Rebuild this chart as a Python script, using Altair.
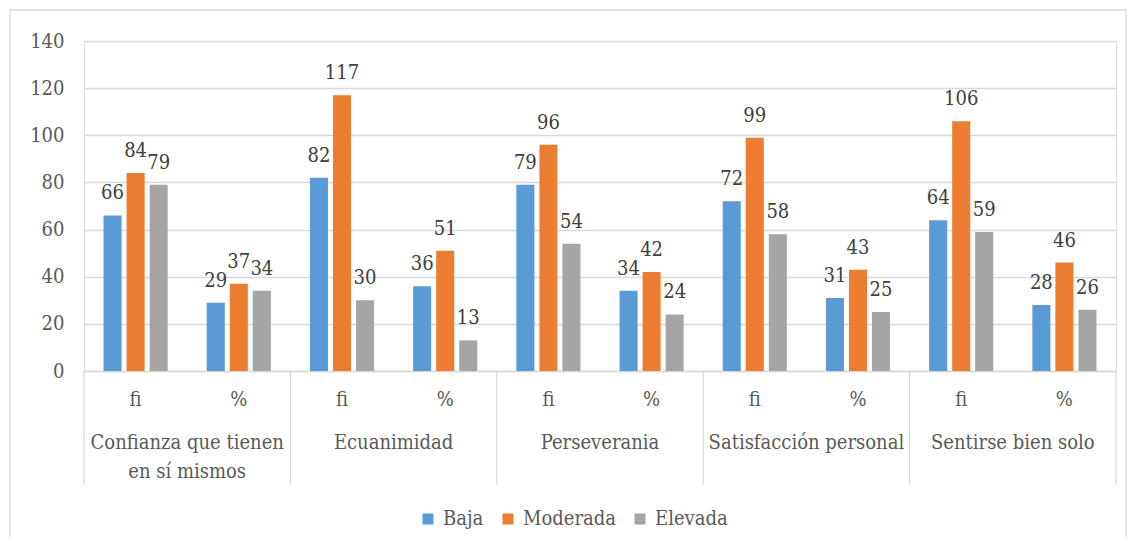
import altair as alt
import pandas as pd

categories = ["Confianza que tienen\nen sí mismos", "Ecuanimidad", "Perseverania",
              "Satisfacción personal", "Sentirse bien solo"]
subs = ["fi", "%"]
series = ["Baja", "Moderada", "Elevada"]
colors = ["#5B9BD5", "#ED7D31", "#A5A5A5"]

baja_fi = [66, 82, 79, 72, 64]
baja_pct = [29, 36, 34, 31, 28]
moderada_fi = [84, 117, 96, 99, 106]
moderada_pct = [37, 51, 42, 43, 46]
elevada_fi = [79, 30, 54, 58, 59]
elevada_pct = [34, 13, 24, 25, 26]

vals = {
    ("Baja", "fi"): baja_fi, ("Baja", "%"): baja_pct,
    ("Moderada", "fi"): moderada_fi, ("Moderada", "%"): moderada_pct,
    ("Elevada", "fi"): elevada_fi, ("Elevada", "%"): elevada_pct,
}

keys = []
rows = []
for i, c in enumerate(categories):
    for s in subs:
        k = f"{i}|{s}"
        keys.append(k)
        for j, ser in enumerate(series):
            rows.append({"cat": c, "sub": s, "key": k, "series": ser, "order": j,
                         "value": vals[(ser, s)][i]})
df = pd.DataFrame(rows)
cat_df = pd.DataFrame({"cat": categories, "key": [f"{i}|fi" for i in range(len(categories))]})
last_df = pd.DataFrame({"key": [keys[-1]]})
frame_df = pd.DataFrame({"a": [0]})

W, H = 1032, 330
FONT = "DejaVu Serif Condensed"

xenc = alt.X("key:N", sort=keys, scale=alt.Scale(paddingInner=0, paddingOuter=0),
             axis=alt.Axis(title=None, labelExpr="split(datum.label, '|')[1]", labelAngle=0,
                           ticks=False, domainColor="#D9D9D9", domainWidth=1.3,
                           labelFontSize=20, labelColor="#595959",
                           labelPadding=18, grid=False))

bars = alt.Chart(df).mark_bar().encode(
    x=xenc,
    xOffset=alt.XOffset("series:N", sort=series,
                        scale=alt.Scale(paddingInner=0.217, paddingOuter=0.848)),
    y=alt.Y("value:Q", scale=alt.Scale(domain=[0, 140]),
            axis=alt.Axis(title=None, values=list(range(0, 141, 20)), domain=False, ticks=False,
                          gridColor="#D9D9D9", gridWidth=1.3, labelFontSize=20,
                          labelColor="#595959", labelPadding=20)),
    color=alt.Color("series:N", sort=series, scale=alt.Scale(domain=series, range=colors),
                    legend=alt.Legend(title=None, orient="none", legendX=334, legendY=468,
                                      direction="horizontal", symbolType="square", symbolSize=121,
                                      labelFontSize=20, labelColor="#595959",
                                      columnPadding=14, labelOffset=5, symbolStrokeWidth=0)),
)

labels = alt.Chart(df).mark_text(baseline="middle", dy=-22, fontSize=20,
                                 color="#404040").encode(
    x=alt.X("key:N", sort=keys),
    xOffset=alt.XOffset("series:N", sort=series),
    y=alt.Y("value:Q"),
    text=alt.Text("value:Q"),
)

cat_text = alt.Chart(cat_df).mark_text(baseline="middle", fontSize=20,
                                       color="#595959", lineBreak="\n", lineHeight=29).encode(
    x=alt.X("key:N", sort=keys, bandPosition=1),
    y=alt.value(H + 72),
    text="cat:N",
)

seps = alt.Chart(cat_df).mark_rule(color="#D9D9D9", strokeWidth=1.3).encode(
    x=alt.X("key:N", sort=keys, bandPosition=0),
    y=alt.value(H), y2=alt.value(H + 114),
)
sep_last = alt.Chart(last_df).mark_rule(color="#D9D9D9", strokeWidth=1.3).encode(
    x=alt.X("key:N", sort=keys, bandPosition=1),
    y=alt.value(H), y2=alt.value(H + 114),
)

frame = alt.Chart(frame_df).mark_rect(fill=None, stroke="#D9D9D9", strokeWidth=1.3).encode(
    x=alt.value(-74), x2=alt.value(1042), y=alt.value(-31), y2=alt.value(497),
)

chart = alt.layer(frame, bars, labels, cat_text, seps, sep_last).properties(
    width=W, height=H,
    padding={"left": 76, "top": 33, "right": 12, "bottom": 166},
    autosize=alt.AutoSizeParams(type="none"),
).configure_view(stroke=None).configure(background="white", font=FONT)

chart.save("out.html", embed_options={"renderer": "svg", "actions": False})
